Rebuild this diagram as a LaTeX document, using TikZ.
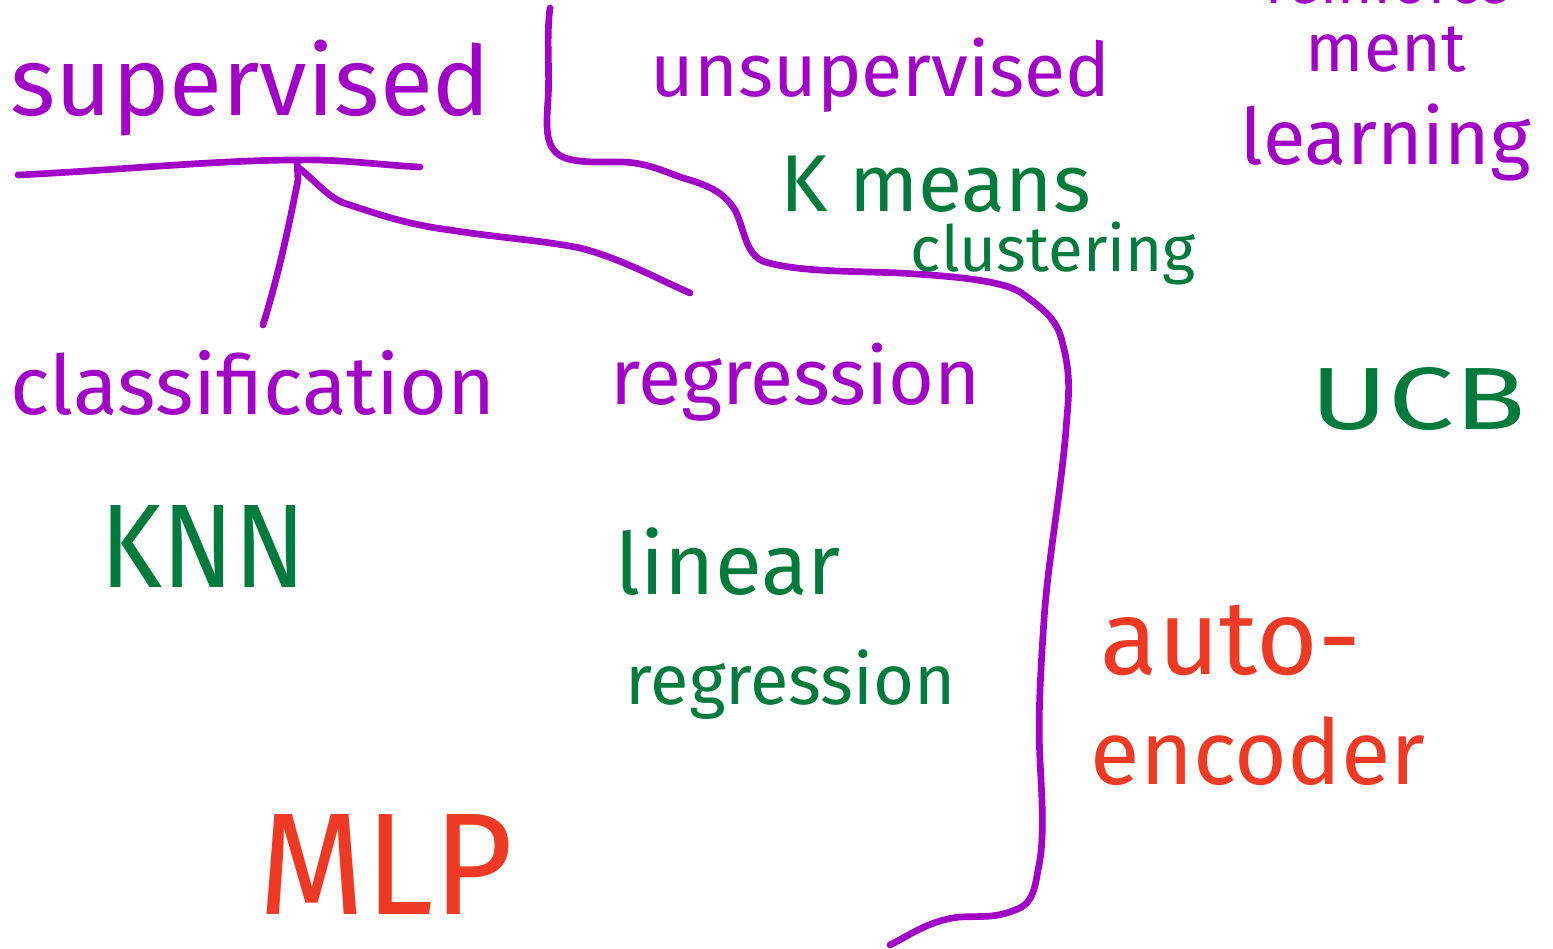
\documentclass[tikz,border=0pt]{standalone}
\usepackage{fontspec}
\setmainfont{Fira Sans}
\usepackage{graphicx}
\newlength\pxu \setlength\pxu{0.01cm}
\newcommand{\hw}[2]{\resizebox{#1\pxu}{!}{#2}}
\newcommand{\hwh}[3]{\resizebox{#1\pxu}{#2\pxu}{#3}}
\definecolor{hpurple}{HTML}{A100C6}
\definecolor{hgreen}{HTML}{007A3D}
\definecolor{hred}{HTML}{EE3A24}
\tikzset{
  lbl/.style={inner sep=0pt, anchor=base west},
  pur/.style={lbl, text=hpurple},
  grn/.style={lbl, text=hgreen},
  rd/.style={lbl, text=hred},
  stroke/.style={draw=hpurple, line width=1.9pt, line cap=round, line join=round},
}
\begin{document}
\begin{tikzpicture}[x=0.01cm, y=-0.01cm]
\useasboundingbox (0,0) rectangle (1553,949);
\clip (0,0) rectangle (1553,949);
% labels
\node[pur] (sup) at (10,116) {\hw{480}{supervised}};
\node[pur] (unsup) at (650,97) {\hw{460}{unsupervised}};
\node[pur] (reinf) at (1265,4) {\hw{245}{reinforce}};
\node[pur] (ment) at (1305,72) {\hw{160}{ment}};
\node[pur] (learn) at (1240,165) {\hw{290}{learning}};
\node[grn] (kmeans) at (780,212) {\hw{310}{K means}};
\node[grn] (clust) at (910,272) {\hw{285}{clustering}};
\node[pur] (class) at (10,415) {\hw{485}{classification}};
\node[pur] (regr) at (610,405) {\hw{370}{regression}};
\node[grn] (knn) at (100,588) {\hwh{205}{82}{KNN}};
\node[grn] (lin) at (615,595) {\hw{225}{linear}};
\node[grn] (linreg) at (625,705) {\hw{330}{regression}};
\node[grn] (ucb) at (1310,430) {\hwh{215}{62}{UCB}};
\node[rd] (auto) at (1100,675) {\hw{260}{auto-}};
\node[rd] (enc) at (1090,785) {\hw{335}{encoder}};
\node[rd] (mlp) at (258,915) {\hwh{255}{100}{MLP}};
% tree under supervised
\coordinate (barL) at (18,175);
\coordinate (barM) at (297,160);
\coordinate (barR) at (420,167);
\coordinate (clsT) at (263,325);
\coordinate (regT) at (690,293);
\draw[stroke] (barL) .. controls (120,170) and (220,160) .. (barM) .. controls (340,159) and (380,165) .. (barR);
\draw[stroke] (barM) -- (298,180) .. controls (290,220) and (280,270) .. (clsT);
\draw[stroke] (299,168) .. controls (320,185) and (330,200) .. (350,205)
  .. controls (380,215) and (410,225) .. (450,230)
  .. controls (500,238) and (540,240) .. (580,248)
  .. controls (620,258) and (660,280) .. (regT);
% divider
\coordinate (divT) at (550,8);
\coordinate (divB) at (890,945);
\draw[stroke] (divT) .. controls (546,40) and (550,70) .. (548,100)
  .. controls (546,130) and (545,150) .. (565,158)
  .. controls (580,163) and (600,162) .. (620,162)
  .. controls (650,162) and (670,175) .. (690,180)
  .. controls (715,188) and (725,195) .. (735,210)
  .. controls (745,230) and (745,255) .. (765,262)
  .. controls (800,272) and (850,271) .. (900,273)
  .. controls (950,276) and (1000,280) .. (1020,292)
  .. controls (1045,310) and (1058,320) .. (1063,345)
  .. controls (1072,380) and (1068,400) .. (1066,430)
  .. controls (1060,500) and (1048,560) .. (1044,620)
  .. controls (1040,680) and (1038,720) .. (1040,760)
  .. controls (1042,800) and (1045,840) .. (1038,870)
  .. controls (1034,895) and (1030,905) .. (1015,910)
  .. controls (995,918) and (985,916) .. (960,917)
  .. controls (930,920) and (910,935) .. (divB);
\end{tikzpicture}
\end{document}
